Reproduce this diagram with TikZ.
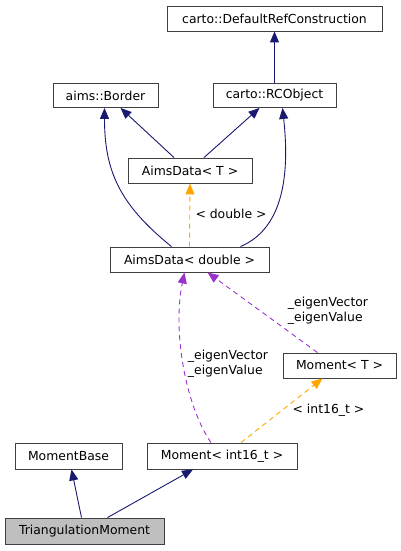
\documentclass[tikz,border=0pt]{standalone}
\usepackage{fontspec}
\setmainfont{DejaVu Sans}
\usepackage{tikz}
\usetikzlibrary{arrows.meta}
\definecolor{navyline}{rgb}{0.098,0.098,0.439}
\definecolor{tmplline}{rgb}{1,0.647,0}
\definecolor{usageline}{rgb}{0.604,0.196,0.804}

\begin{document}
\begin{tikzpicture}[x=1pt,y=-1pt,
  box/.style={draw=black!75,line width=0.9pt,fill=white,inner sep=0pt,font=\fontsize{12.4}{15}\selectfont},
  inherit/.style={navyline,line width=0.9pt,-{Triangle[length=11pt,width=9pt]}},
  tmpl/.style={tmplline,line width=0.9pt,dash pattern=on 5pt off 4pt,-{Triangle[length=11pt,width=9pt]}},
  usage/.style={usageline,line width=0.9pt,dash pattern=on 5pt off 4pt,-{Triangle[length=11pt,width=9pt]}},
  lbl/.style={inner sep=0pt,font=\fontsize{12.4}{15}\selectfont,align=left}]
\useasboundingbox (0,0) rectangle (401,551);
\node[box,minimum width=215pt,minimum height=25pt](defref) at (274.5,18.5){carto::DefaultRefConstruction};
\node[box,minimum width=105pt,minimum height=24pt](border) at (105.5,95.5){aims::Border};
\node[box,minimum width=123pt,minimum height=24pt](rcobj) at (274.5,95.5){carto::RCObject};
\node[box,minimum width=124pt,minimum height=25pt](aimsT) at (190,170.5){AimsData< T >};
\node[box,minimum width=159pt,minimum height=25pt](aimsD) at (189.5,259.5){AimsData< double >};
\node[box,minimum width=113pt,minimum height=25pt](momT) at (339.5,365.5){Moment< T >};
\node[box,minimum width=107pt,minimum height=26pt](momBase) at (68.5,456){MomentBase};
\node[box,minimum width=150pt,minimum height=26pt](momI) at (222,456){Moment< int16\_t >};
\node[box,fill=black!25,minimum width=159pt,minimum height=26pt](tri) at (84.5,531){TriangulationMoment};

\draw[inherit](rcobj.north)--(defref.south);
\draw[inherit]([xshift=-16pt]aimsT.north)--([xshift=15pt]border.south);
\draw[inherit]([xshift=14pt]aimsT.north)--([xshift=-15pt]rcobj.south);
\draw[inherit]([xshift=-18pt]aimsD.north) .. controls +(-52,-42) and +(0,63) .. ([xshift=-1pt]border.south);
\draw[inherit]([xshift=51pt]aimsD.north) .. controls +(40,-17) and +(8,73) .. ([xshift=8pt]rcobj.south);
\draw[tmpl](aimsD.north)--(aimsT.south);
\node[lbl](dbl) at (231,214){< double >};

\draw[usage]([xshift=-11pt]momI.north) .. controls +(-26,-38) and +(-12,58) .. ([xshift=-5pt]aimsD.south);
\node[lbl](eigA) at (228,364){\_eigenVector\\\_eigenValue};
\draw[usage]([xshift=-22pt]momT.north)--([xshift=18pt]aimsD.south);
\node[lbl](eigB) at (328,311){\_eigenVector\\\_eigenValue};
\draw[tmpl]([xshift=19pt]momI.north)--([xshift=-17pt]momT.south);
\node[lbl](i16) at (328.5,410){< int16\_t >};

\draw[inherit]([xshift=-3pt]tri.north)--([xshift=3pt]momBase.south);
\draw[inherit]([xshift=23pt]tri.north)--([xshift=-29pt]momI.south);
\end{tikzpicture}
\end{document}
